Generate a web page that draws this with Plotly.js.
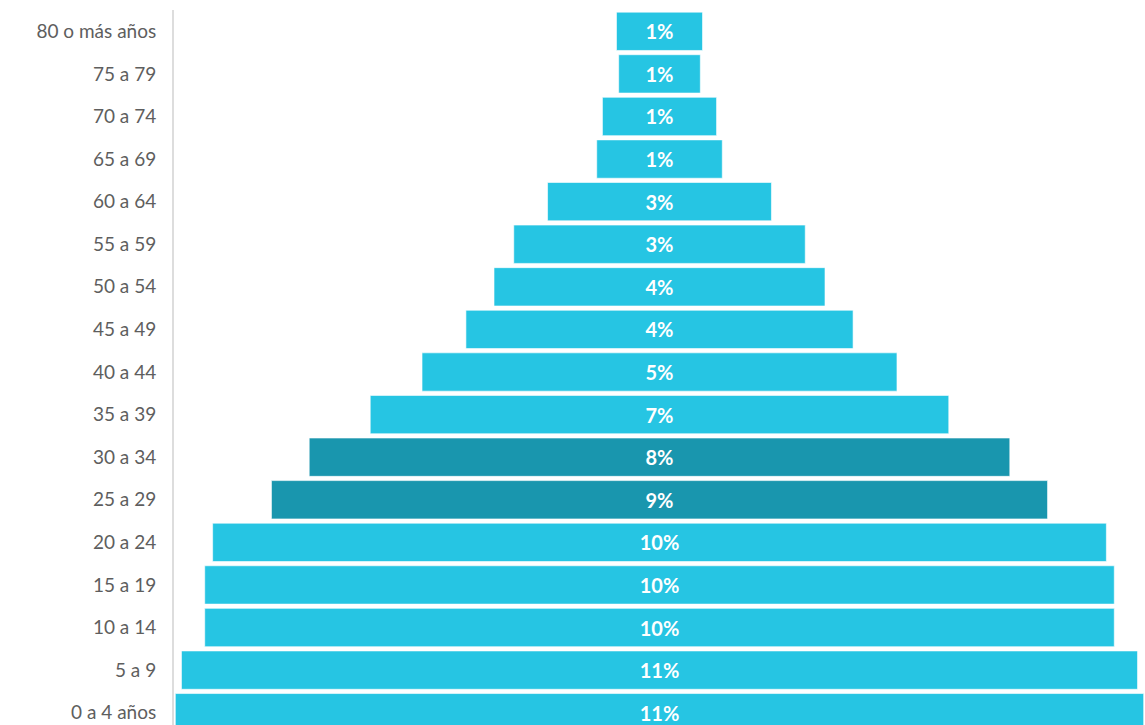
<!DOCTYPE html>
<html>
<head>
<meta charset="utf-8">
<script src="https://cdn.plot.ly/plotly-3.0.1.min.js"></script>
<style>
html,body{margin:0;padding:0;overflow:hidden;background:#fff;}
#chart{width:1145px;height:734px;}
</style>
</head>
<body>
<div id="chart"></div>
<script>
const categories = ["80 o más años","75 a 79","70 a 74","65 a 69","60 a 64","55 a 59","50 a 54","45 a 49","40 a 44","35 a 39","30 a 34","25 a 29","20 a 24","15 a 19","10 a 14","5 a 9","0 a 4 años"];
const values = [0.98,0.93,1.30,1.43,2.55,3.32,3.77,4.41,5.41,6.59,7.98,8.84,10.18,10.36,10.36,10.89,11.03];
const labels = ["1%","1%","1%","1%","3%","3%","4%","4%","5%","7%","8%","9%","10%","10%","10%","11%","11%"];
const highlighted = ["30 a 34","25 a 29"];

const light = "#26C5E3";
const dark = "#1996AE";
const colors = categories.map(c => highlighted.includes(c) ? dark : light);

const trace = {
  type: "bar",
  orientation: "h",
  y: categories,
  x: values,
  base: values.map(v => -v/2),
  text: labels,
  textposition: "inside",
  insidetextanchor: "middle",
  textangle: 0,
  texttemplate: "<b>%{text}</b>",
  textfont: {family: "Lato, 'Open Sans', sans-serif", size: 20, color: "#ffffff"},
  marker: {color: colors, line: {color: "rgba(255,255,255,0.6)", width: 1}},
  hoverinfo: "skip",
  cliponaxis: false
};

const layout = {
  width: 1145,
  height: 734,
  margin: {l: 174, r: 0, t: 10, b: 0},
  paper_bgcolor: "#ffffff",
  plot_bgcolor: "#ffffff",
  bargap: 0.1,
  showlegend: false,
  xaxis: {
    range: [-5.53, 5.53],
    visible: false,
    fixedrange: true
  },
  yaxis: {
    type: "category",
    categoryorder: "array",
    categoryarray: categories,
    autorange: "reversed",
    showline: true,
    linecolor: "#dddddd",
    linewidth: 2,
    showgrid: false,
    zeroline: false,
    ticks: "",
    ticklabelstandoff: 12,
    tickfont: {family: "Lato, 'Open Sans', sans-serif", size: 19, color: "#5e5e5e"}
  },
  uniformtext: {mode: "show", minsize: 10}
};

Plotly.newPlot("chart", [trace], layout, {displayModeBar: false, staticPlot: true});
</script>
</body>
</html>
